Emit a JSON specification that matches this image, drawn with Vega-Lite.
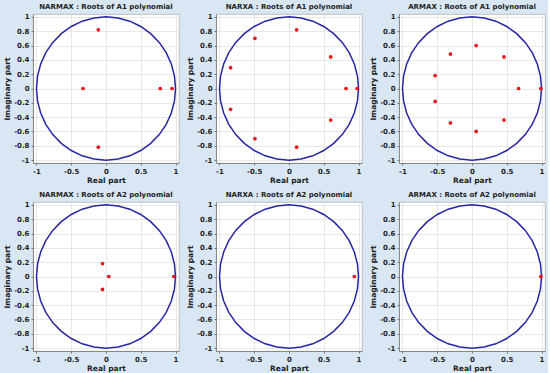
{
  "$schema": "https://vega.github.io/schema/vega-lite/v6.json",
  "background": "#d9e7f5",
  "padding": {"left": 3, "top": 2, "right": 2, "bottom": 1},
  "spacing": 6,
  "columns": 3,
  "datasets": {
    "circle": [
      {"k": 0, "re": 1, "im": 0},
      {"k": 1, "re": 0.9848, "im": 0.1736},
      {"k": 2, "re": 0.9397, "im": 0.342},
      {"k": 3, "re": 0.866, "im": 0.5},
      {"k": 4, "re": 0.766, "im": 0.6428},
      {"k": 5, "re": 0.6428, "im": 0.766},
      {"k": 6, "re": 0.5, "im": 0.866},
      {"k": 7, "re": 0.342, "im": 0.9397},
      {"k": 8, "re": 0.1736, "im": 0.9848},
      {"k": 9, "re": 0, "im": 1},
      {"k": 10, "re": -0.1736, "im": 0.9848},
      {"k": 11, "re": -0.342, "im": 0.9397},
      {"k": 12, "re": -0.5, "im": 0.866},
      {"k": 13, "re": -0.6428, "im": 0.766},
      {"k": 14, "re": -0.766, "im": 0.6428},
      {"k": 15, "re": -0.866, "im": 0.5},
      {"k": 16, "re": -0.9397, "im": 0.342},
      {"k": 17, "re": -0.9848, "im": 0.1736},
      {"k": 18, "re": -1, "im": 0},
      {"k": 19, "re": -0.9848, "im": -0.1736},
      {"k": 20, "re": -0.9397, "im": -0.342},
      {"k": 21, "re": -0.866, "im": -0.5},
      {"k": 22, "re": -0.766, "im": -0.6428},
      {"k": 23, "re": -0.6428, "im": -0.766},
      {"k": 24, "re": -0.5, "im": -0.866},
      {"k": 25, "re": -0.342, "im": -0.9397},
      {"k": 26, "re": -0.1736, "im": -0.9848},
      {"k": 27, "re": 0, "im": -1},
      {"k": 28, "re": 0.1736, "im": -0.9848},
      {"k": 29, "re": 0.342, "im": -0.9397},
      {"k": 30, "re": 0.5, "im": -0.866},
      {"k": 31, "re": 0.6428, "im": -0.766},
      {"k": 32, "re": 0.766, "im": -0.6428},
      {"k": 33, "re": 0.866, "im": -0.5},
      {"k": 34, "re": 0.9397, "im": -0.342},
      {"k": 35, "re": 0.9848, "im": -0.1736},
      {"k": 36, "re": 1, "im": 0}
    ],
    "roots": [
      {"panel": 1, "re": -0.11, "im": 0.82},
      {"panel": 1, "re": -0.11, "im": -0.82},
      {"panel": 1, "re": -0.33, "im": 0},
      {"panel": 1, "re": 0.78, "im": 0},
      {"panel": 1, "re": 0.95, "im": 0},
      {"panel": 2, "re": 0.11, "im": 0.82},
      {"panel": 2, "re": 0.11, "im": -0.82},
      {"panel": 2, "re": -0.49, "im": 0.7},
      {"panel": 2, "re": -0.49, "im": -0.7},
      {"panel": 2, "re": -0.84, "im": 0.29},
      {"panel": 2, "re": -0.84, "im": -0.29},
      {"panel": 2, "re": 0.6, "im": 0.44},
      {"panel": 2, "re": 0.6, "im": -0.44},
      {"panel": 2, "re": 0.82, "im": 0},
      {"panel": 2, "re": 0.98, "im": 0},
      {"panel": 3, "re": 0.06, "im": 0.6},
      {"panel": 3, "re": 0.06, "im": -0.6},
      {"panel": 3, "re": -0.31, "im": 0.48},
      {"panel": 3, "re": -0.31, "im": -0.48},
      {"panel": 3, "re": 0.46, "im": 0.44},
      {"panel": 3, "re": 0.46, "im": -0.44},
      {"panel": 3, "re": -0.53, "im": 0.18},
      {"panel": 3, "re": -0.53, "im": -0.18},
      {"panel": 3, "re": 0.67, "im": 0},
      {"panel": 3, "re": 0.99, "im": 0},
      {"panel": 4, "re": -0.05, "im": 0.18},
      {"panel": 4, "re": -0.05, "im": -0.18},
      {"panel": 4, "re": 0.04, "im": 0},
      {"panel": 4, "re": 0.975, "im": 0},
      {"panel": 5, "re": 0.94, "im": 0},
      {"panel": 6, "re": 0.99, "im": 0}
    ]
  },
  "concat": [
    {
      "title": "NARMAX : Roots of A1 polynomial",
      "width": 146, "height": 149,
      "encoding": {
        "x": {"field": "re", "type": "quantitative", "scale": {"domain": [-1.05, 1.05], "nice": false, "zero": false}, "axis": {"values": [-1, -0.5, 0, 0.5, 1], "title": "Real part", "labelExpr": "'' + datum.value", "labelOverlap": false}},
        "y": {"field": "im", "type": "quantitative", "scale": {"domain": [-1.04, 1.04], "nice": false, "zero": false}, "axis": {"values": [-1, -0.8, -0.6, -0.4, -0.2, 0, 0.2, 0.4, 0.6, 0.8, 1], "title": "Imaginary part", "labelExpr": "'' + datum.value", "labelOverlap": false}}
      },
      "layer": [
        {"data": {"name": "circle"}, "mark": {"type": "line", "color": "#2626a8", "strokeWidth": 1.5}, "encoding": {"order": {"field": "k", "type": "quantitative"}}},
        {"data": {"name": "roots"}, "transform": [{"filter": "datum.panel == 1"}], "mark": {"type": "circle", "color": "#e8141c", "size": 14, "opacity": 1}}
      ]
    },
    {
      "title": "NARXA : Roots of A1 polynomial",
      "width": 146, "height": 149,
      "encoding": {
        "x": {"field": "re", "type": "quantitative", "scale": {"domain": [-1.05, 1.05], "nice": false, "zero": false}, "axis": {"values": [-1, -0.5, 0, 0.5, 1], "title": "Real part", "labelExpr": "'' + datum.value", "labelOverlap": false}},
        "y": {"field": "im", "type": "quantitative", "scale": {"domain": [-1.04, 1.04], "nice": false, "zero": false}, "axis": {"values": [-1, -0.8, -0.6, -0.4, -0.2, 0, 0.2, 0.4, 0.6, 0.8, 1], "title": "Imaginary part", "labelExpr": "'' + datum.value", "labelOverlap": false}}
      },
      "layer": [
        {"data": {"name": "circle"}, "mark": {"type": "line", "color": "#2626a8", "strokeWidth": 1.5}, "encoding": {"order": {"field": "k", "type": "quantitative"}}},
        {"data": {"name": "roots"}, "transform": [{"filter": "datum.panel == 2"}], "mark": {"type": "circle", "color": "#e8141c", "size": 14, "opacity": 1}}
      ]
    },
    {
      "title": "ARMAX : Roots of A1 polynomial",
      "width": 146, "height": 149,
      "encoding": {
        "x": {"field": "re", "type": "quantitative", "scale": {"domain": [-1.05, 1.05], "nice": false, "zero": false}, "axis": {"values": [-1, -0.5, 0, 0.5, 1], "title": "Real part", "labelExpr": "'' + datum.value", "labelOverlap": false}},
        "y": {"field": "im", "type": "quantitative", "scale": {"domain": [-1.04, 1.04], "nice": false, "zero": false}, "axis": {"values": [-1, -0.8, -0.6, -0.4, -0.2, 0, 0.2, 0.4, 0.6, 0.8, 1], "title": "Imaginary part", "labelExpr": "'' + datum.value", "labelOverlap": false}}
      },
      "layer": [
        {"data": {"name": "circle"}, "mark": {"type": "line", "color": "#2626a8", "strokeWidth": 1.5}, "encoding": {"order": {"field": "k", "type": "quantitative"}}},
        {"data": {"name": "roots"}, "transform": [{"filter": "datum.panel == 3"}], "mark": {"type": "circle", "color": "#e8141c", "size": 14, "opacity": 1}}
      ]
    },
    {
      "title": "NARMAX : Roots of A2 polynomial",
      "width": 146, "height": 149,
      "encoding": {
        "x": {"field": "re", "type": "quantitative", "scale": {"domain": [-1.05, 1.05], "nice": false, "zero": false}, "axis": {"values": [-1, -0.5, 0, 0.5, 1], "title": "Real part", "labelExpr": "'' + datum.value", "labelOverlap": false}},
        "y": {"field": "im", "type": "quantitative", "scale": {"domain": [-1.04, 1.04], "nice": false, "zero": false}, "axis": {"values": [-1, -0.8, -0.6, -0.4, -0.2, 0, 0.2, 0.4, 0.6, 0.8, 1], "title": "Imaginary part", "labelExpr": "'' + datum.value", "labelOverlap": false}}
      },
      "layer": [
        {"data": {"name": "circle"}, "mark": {"type": "line", "color": "#2626a8", "strokeWidth": 1.5}, "encoding": {"order": {"field": "k", "type": "quantitative"}}},
        {"data": {"name": "roots"}, "transform": [{"filter": "datum.panel == 4"}], "mark": {"type": "circle", "color": "#e8141c", "size": 14, "opacity": 1}}
      ]
    },
    {
      "title": "NARXA : Roots of A2 polynomial",
      "width": 146, "height": 149,
      "encoding": {
        "x": {"field": "re", "type": "quantitative", "scale": {"domain": [-1.05, 1.05], "nice": false, "zero": false}, "axis": {"values": [-1, -0.5, 0, 0.5, 1], "title": "Real part", "labelExpr": "'' + datum.value", "labelOverlap": false}},
        "y": {"field": "im", "type": "quantitative", "scale": {"domain": [-1.04, 1.04], "nice": false, "zero": false}, "axis": {"values": [-1, -0.8, -0.6, -0.4, -0.2, 0, 0.2, 0.4, 0.6, 0.8, 1], "title": "Imaginary part", "labelExpr": "'' + datum.value", "labelOverlap": false}}
      },
      "layer": [
        {"data": {"name": "circle"}, "mark": {"type": "line", "color": "#2626a8", "strokeWidth": 1.5}, "encoding": {"order": {"field": "k", "type": "quantitative"}}},
        {"data": {"name": "roots"}, "transform": [{"filter": "datum.panel == 5"}], "mark": {"type": "circle", "color": "#e8141c", "size": 14, "opacity": 1}}
      ]
    },
    {
      "title": "ARMAX : Roots of A2 polynomial",
      "width": 146, "height": 149,
      "encoding": {
        "x": {"field": "re", "type": "quantitative", "scale": {"domain": [-1.05, 1.05], "nice": false, "zero": false}, "axis": {"values": [-1, -0.5, 0, 0.5, 1], "title": "Real part", "labelExpr": "'' + datum.value", "labelOverlap": false}},
        "y": {"field": "im", "type": "quantitative", "scale": {"domain": [-1.04, 1.04], "nice": false, "zero": false}, "axis": {"values": [-1, -0.8, -0.6, -0.4, -0.2, 0, 0.2, 0.4, 0.6, 0.8, 1], "title": "Imaginary part", "labelExpr": "'' + datum.value", "labelOverlap": false}}
      },
      "layer": [
        {"data": {"name": "circle"}, "mark": {"type": "line", "color": "#2626a8", "strokeWidth": 1.5}, "encoding": {"order": {"field": "k", "type": "quantitative"}}},
        {"data": {"name": "roots"}, "transform": [{"filter": "datum.panel == 6"}], "mark": {"type": "circle", "color": "#e8141c", "size": 14, "opacity": 1}}
      ]
    }
  ],
  "config": {
    "view": {"fill": "white", "stroke": "#b0b0b0", "strokeWidth": 0.8},
    "title": {"font": "DejaVu Sans", "fontSize": 7, "fontWeight": "bold", "color": "#222", "offset": 3, "anchor": "middle"},
    "axis": {
      "labelFont": "DejaVu Sans", "labelFontSize": 7, "labelFontWeight": "bold", "labelColor": "#222", "labelFlush": false,
      "titleFont": "DejaVu Sans", "titleFontSize": 7.5, "titleFontWeight": "bold", "titleColor": "#222",
      "gridColor": "#dedede", "gridWidth": 0.7,
      "domainColor": "#777", "domainWidth": 0.8,
      "tickColor": "#777", "tickSize": 2, "labelPadding": 2, "titlePadding": 2
    }
  }
}
